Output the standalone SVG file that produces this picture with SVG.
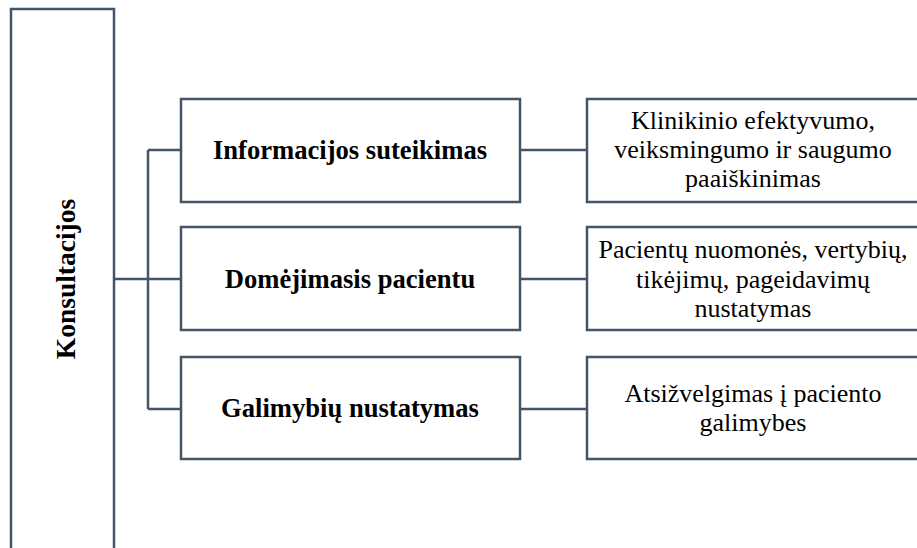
<svg xmlns="http://www.w3.org/2000/svg" width="917" height="548" viewBox="0 0 917 548">
<style>
.box{fill:#ffffff;stroke:#44546a;stroke-width:2.5}
.ln{fill:none;stroke:#44546a;stroke-width:2.5}
.b{font-family:"Liberation Serif","Times New Roman",serif;font-weight:bold;font-size:26.6px;fill:#000;text-anchor:middle}
.r{font-family:"Liberation Serif","Times New Roman",serif;font-size:26px;fill:#000;text-anchor:middle}
</style>
<rect width="917" height="548" fill="#ffffff"/>
<g id="connectors">
<path class="ln" d="M114 279H181M148 150V409M148 150H181M148 409H181M520 150H587M520 279H587M520 409H587"/>
</g>
<g id="konsultacijos">
<rect class="box" x="11" y="9" width="103" height="560"/>
<text class="b" style="font-size:27.5px" transform="translate(75 279) rotate(-90)">Konsultacijos</text>
</g>
<g id="informacijos">
<rect class="box" x="181" y="99" width="339" height="103"/>
<text class="b" x="350" y="159">Informacijos suteikimas</text>
</g>
<g id="domejimasis">
<rect class="box" x="181" y="227" width="339" height="103"/>
<text class="b" x="350" y="288">Domėjimasis pacientu</text>
</g>
<g id="galimybiu">
<rect class="box" x="181" y="357" width="339" height="102"/>
<text class="b" x="350" y="417">Galimybių nustatymas</text>
</g>
<g id="klinikinio">
<rect class="box" x="587" y="99" width="350" height="103"/>
<text class="r" x="753"><tspan x="753" y="129">Klinikinio efektyvumo,</tspan><tspan x="753" y="158">veiksmingumo ir saugumo</tspan><tspan x="753" y="187">paaiškinimas</tspan></text>
</g>
<g id="pacientu">
<rect class="box" x="587" y="227" width="350" height="103"/>
<text class="r" x="753"><tspan x="753" y="258">Pacientų nuomonės, vertybių,</tspan><tspan x="753" y="288">tikėjimų, pageidavimų</tspan><tspan x="753" y="317">nustatymas</tspan></text>
</g>
<g id="atsizvelgimas">
<rect class="box" x="587" y="357" width="350" height="102"/>
<text class="r" x="753"><tspan x="753" y="402">Atsižvelgimas į paciento</tspan><tspan x="753" y="431">galimybes</tspan></text>
</g>
</svg>
